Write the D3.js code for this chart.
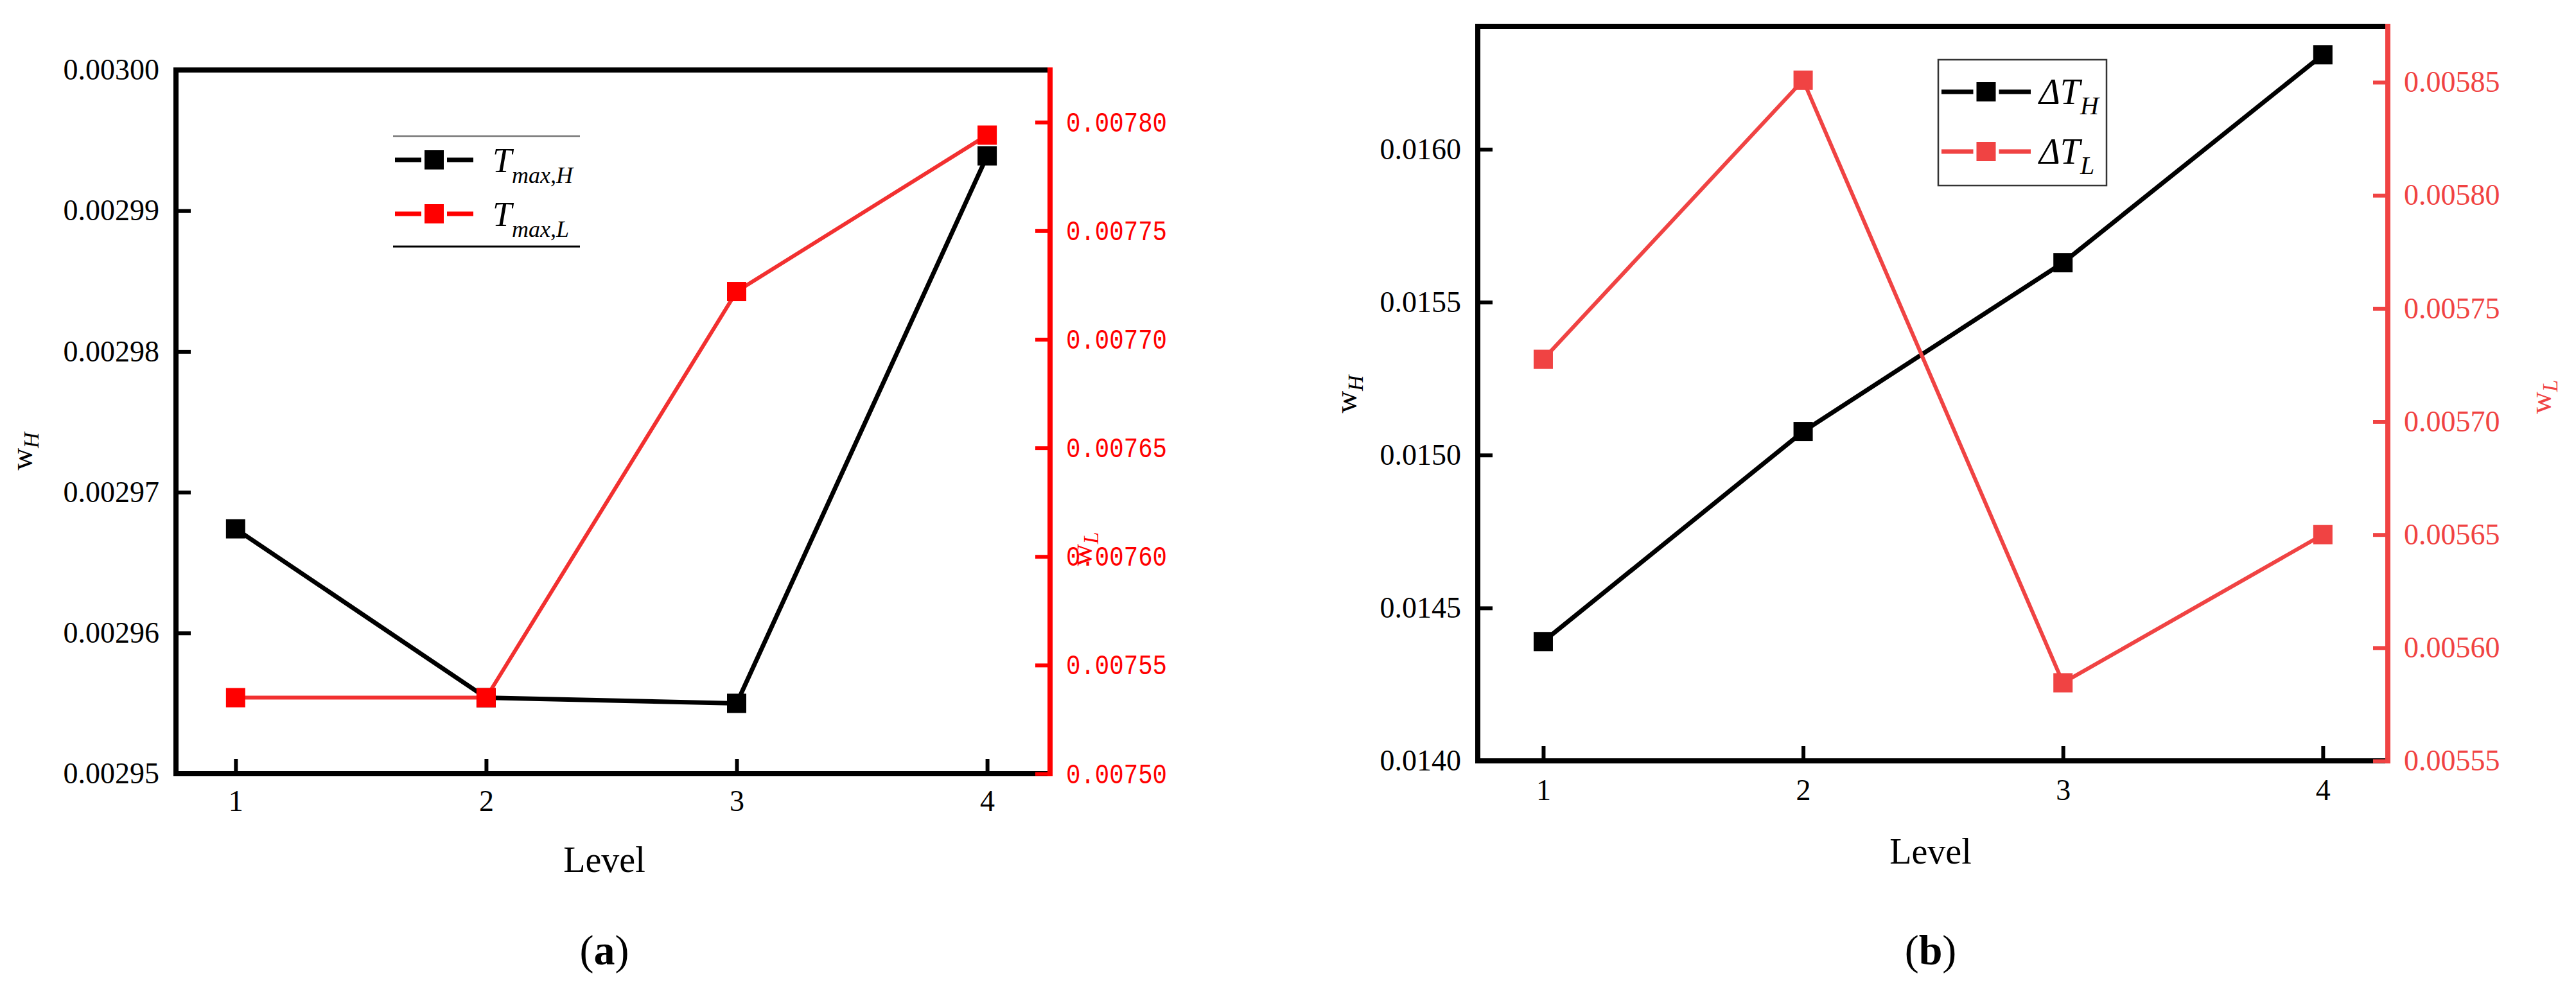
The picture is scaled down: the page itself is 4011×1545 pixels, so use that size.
<!DOCTYPE html>
<html>

<head>
  <meta charset="utf-8">
  <script src="https://d3js.org/d3.v7.min.js"></script>
  <style>
    html,
    body {
      margin: 0;
      padding: 0;
      background: #fff;
    }
    svg {
      display: block;
      font-family: "Liberation Serif", "Times New Roman", serif;
    }
  </style>
</head>

<body>
  <div id="chart"></div>

  <script>
    // categories shared by both panels
    var levels = [1, 2, 3, 4];

    // (a) weights of the max temperatures
    var tmaxH = [0.0029674, 0.0029554, 0.0029550, 0.0029939];
    var tmaxL = [0.007535, 0.007535, 0.007722, 0.007794];
    var aLeftTicks = [0.00295, 0.00296, 0.00297, 0.00298, 0.00299, 0.00300];
    var aRightTicks = [0.00750, 0.00755, 0.00760, 0.00765, 0.00770, 0.00775, 0.00780];

    // (b) weights of the temperature differences
    var dTH = [0.014390, 0.015077, 0.015629, 0.016309];
    var dTL = [0.0057275, 0.0058509, 0.0055845, 0.0056500];
    var bLeftTicks = [0.0140, 0.0145, 0.0150, 0.0155, 0.0160];
    var bRightTicks = [0.00555, 0.00560, 0.00565, 0.00570, 0.00575, 0.00580, 0.00585];

    var serif = "'Liberation Serif', 'Times New Roman', serif";

    var svg = d3.select("#chart")
      .append("svg")
      .attr("width", 4011)
      .attr("height", 1545);

    svg.append("rect")
      .attr("width", 4011)
      .attr("height", 1545)
      .attr("fill", "#fff");

    function drawPanel(p) {
      var g = svg.append("g");

      var x = d3.scaleLinear().domain(p.xDomain).range([p.left, p.right]);
      var yL = d3.scaleLinear().domain(p.leftDomain).range([p.bottom, p.top]);
      var yR = d3.scaleLinear().domain(p.rightDomain).range([p.bottom, p.top]);

      // frame: left, top and bottom in black
      g.append("path")
        .attr("d", "M" + p.right + "," + p.top + "H" + p.left + "V" + p.bottom + "H" + p.right)
        .attr("fill", "none")
        .attr("stroke", "#000")
        .attr("stroke-width", 8)
        .attr("stroke-linecap", "square");

      // x axis, ticks point inward
      var gx = g.append("g")
        .attr("transform", "translate(0," + p.bottom + ")")
        .call(d3.axisBottom(x).tickValues(levels).tickFormat(d3.format("d"))
          .tickSize(-23).tickPadding(p.xPad));
      gx.select(".domain").remove();
      gx.selectAll("line").attr("stroke", "#000").attr("stroke-width", 6);
      gx.selectAll("text")
        .attr("fill", "#000")
        .style("font-family", serif)
        .style("font-size", "46px");

      // left axis
      var gl = g.append("g")
        .attr("transform", "translate(" + p.left + ",0)")
        .call(d3.axisLeft(yL).tickValues(p.leftTicks).tickFormat(p.leftFmt)
          .tickSize(-23).tickPadding(26));
      gl.select(".domain").remove();
      gl.selectAll("line").attr("stroke", "#000").attr("stroke-width", 6);
      gl.selectAll("text")
        .attr("fill", "#000")
        .style("font-family", serif)
        .style("font-size", "46px");

      // right axis in red
      g.append("line")
        .attr("x1", p.right)
        .attr("x2", p.right)
        .attr("y1", p.top - 4)
        .attr("y2", p.bottom + 4)
        .attr("stroke", p.red)
        .attr("stroke-width", 8);

      var gr = g.append("g")
        .attr("transform", "translate(" + p.right + ",0)")
        .call(d3.axisRight(yR).tickValues(p.rightTicks).tickFormat(p.rightFmt)
          .tickSize(-23).tickPadding(25));
      gr.select(".domain").remove();
      gr.selectAll("line").attr("stroke", p.red).attr("stroke-width", 6);
      gr.selectAll("text")
        .attr("fill", p.red)
        .style("font-family", p.rightFont)
        .style("font-size", p.rightFontSize + "px");
      if (p.rightTextLength) {
        gr.selectAll("text")
          .attr("textLength", p.rightTextLength)
          .attr("lengthAdjust", "spacingAndGlyphs");
      }

      // series: black on the left scale, red on the right scale
      var series = [
        { values: p.blackData, y: yL, line: "#000", marker: "#000", width: 7 },
        { values: p.redData, y: yR, line: p.redLine, marker: p.red, width: 6 }
      ];

      series.forEach(function (s) {
        var pts = levels.map(function (l, i) { return { level: l, value: s.values[i] }; });

        g.append("path")
          .datum(pts)
          .attr("fill", "none")
          .attr("stroke", s.line)
          .attr("stroke-width", s.width)
          .attr("d", d3.line()
            .x(function (d) { return x(d.level); })
            .y(function (d) { return s.y(d.value); })
          );

        g.selectAll(null)
          .data(pts)
          .enter()
          .append("rect")
          .attr("x", function (d) { return x(d.level) - 15; })
          .attr("y", function (d) { return s.y(d.value) - 15; })
          .attr("width", 30)
          .attr("height", 30)
          .attr("fill", s.marker);
      });

      // axis titles
      g.append("text")
        .attr("x", p.levelX)
        .attr("y", p.levelY)
        .attr("text-anchor", "middle")
        .style("font-family", serif)
        .attr("font-size", 56)
        .text("Level");

      axisTitle(g, p.leftTitleX, p.leftTitleY, "H", "#000");
      axisTitle(g, p.rightTitleX, p.rightTitleY, "L", p.red);

      // caption
      var cap = g.append("text")
        .attr("x", p.levelX)
        .attr("y", 1502)
        .attr("text-anchor", "middle")
        .style("font-family", serif)
        .attr("font-size", 66);
      cap.append("tspan").text("(");
      cap.append("tspan").attr("font-weight", "bold").text(p.caption);
      cap.append("tspan").text(")");

      return g;
    }

    // rotated "w" with italic subscript
    function axisTitle(g, x, y, sub, color) {
      var t = g.append("text")
        .attr("transform", "translate(" + x + "," + y + ") rotate(-90)")
        .attr("text-anchor", "middle")
        .style("font-family", serif)
        .attr("font-size", 48)
        .attr("fill", color);
      t.append("tspan").text("w");
      t.append("tspan")
        .attr("font-size", 34)
        .attr("font-style", "italic")
        .attr("dy", 10)
        .text(sub);
    }

    // legend entry: line with gap, square marker, italic label with subscript
    function legendEntry(g, x0, x1, y, color, main, sub, textX, mainSize, subSize, subDy) {
      var mid = (x0 + x1) / 2;
      g.append("line")
        .attr("x1", x0).attr("x2", mid - 20)
        .attr("y1", y).attr("y2", y)
        .attr("stroke", color).attr("stroke-width", 7);
      g.append("line")
        .attr("x1", mid + 20).attr("x2", x1)
        .attr("y1", y).attr("y2", y)
        .attr("stroke", color).attr("stroke-width", 7);
      g.append("rect")
        .attr("x", mid - 15).attr("y", y - 15)
        .attr("width", 30).attr("height", 30)
        .attr("fill", color);
      var t = g.append("text")
        .attr("x", textX)
        .attr("y", y + 19)
        .style("font-family", serif)
        .attr("font-size", mainSize)
        .attr("font-style", "italic")
        .attr("fill", "#000");
      t.append("tspan").text(main);
      t.append("tspan").attr("font-size", subSize).attr("dy", subDy).text(sub);
    }

    // panel (a)
    var ga = drawPanel({
      left: 274, right: 1635, top: 109, bottom: 1205,
      xDomain: [0.762, 4.251],
      leftDomain: [0.00295, 0.00300],
      rightDomain: [0.00750, 0.007824],
      leftTicks: aLeftTicks, leftFmt: d3.format(".5f"),
      rightTicks: aRightTicks, rightFmt: d3.format(".5f"),
      rightFont: "'Liberation Mono', monospace", rightFontSize: 44, rightTextLength: 157,
      red: "#ff0000", redLine: "#f23030",
      blackData: tmaxH, redData: tmaxL,
      xPad: 25,
      levelX: 941, levelY: 1358,
      leftTitleX: 50, leftTitleY: 703,
      rightTitleX: 1700, rightTitleY: 855,
      caption: "a"
    });

    ga.append("line")
      .attr("x1", 612).attr("x2", 903).attr("y1", 212).attr("y2", 212)
      .attr("stroke", "#777").attr("stroke-width", 2.5);
    ga.append("line")
      .attr("x1", 612).attr("x2", 903).attr("y1", 384).attr("y2", 384)
      .attr("stroke", "#000").attr("stroke-width", 3);
    legendEntry(ga, 615, 737, 249, "#000", "T", "max,H", 767, 54, 36, 17);
    legendEntry(ga, 615, 737, 333, "#ff0000", "T", "max,L", 767, 54, 36, 17);

    // panel (b)
    var gb = drawPanel({
      left: 2301, right: 3718, top: 41, bottom: 1185,
      xDomain: [0.748, 4.25],
      leftDomain: [0.0140, 0.016402],
      rightDomain: [0.00555, 0.0058747],
      leftTicks: bLeftTicks, leftFmt: d3.format(".4f"),
      rightTicks: bRightTicks, rightFmt: d3.format(".5f"),
      rightFont: serif, rightFontSize: 46, rightTextLength: null,
      red: "#f04343", redLine: "#f04343",
      blackData: dTH, redData: dTL,
      xPad: 28,
      levelX: 3006, levelY: 1345,
      leftTitleX: 2112, leftTitleY: 614,
      rightTitleX: 3972, rightTitleY: 618,
      caption: "b"
    });

    gb.append("rect")
      .attr("x", 3018).attr("y", 93)
      .attr("width", 262).attr("height", 196)
      .attr("fill", "#fff")
      .attr("stroke", "#333")
      .attr("stroke-width", 2.5);
    legendEntry(gb, 3023, 3162, 143, "#000", "\u0394T", "H", 3175, 56, 40, 16);
    legendEntry(gb, 3023, 3162, 236, "#f04343", "\u0394T", "L", 3175, 56, 40, 16);
  </script>
</body>

</html>
